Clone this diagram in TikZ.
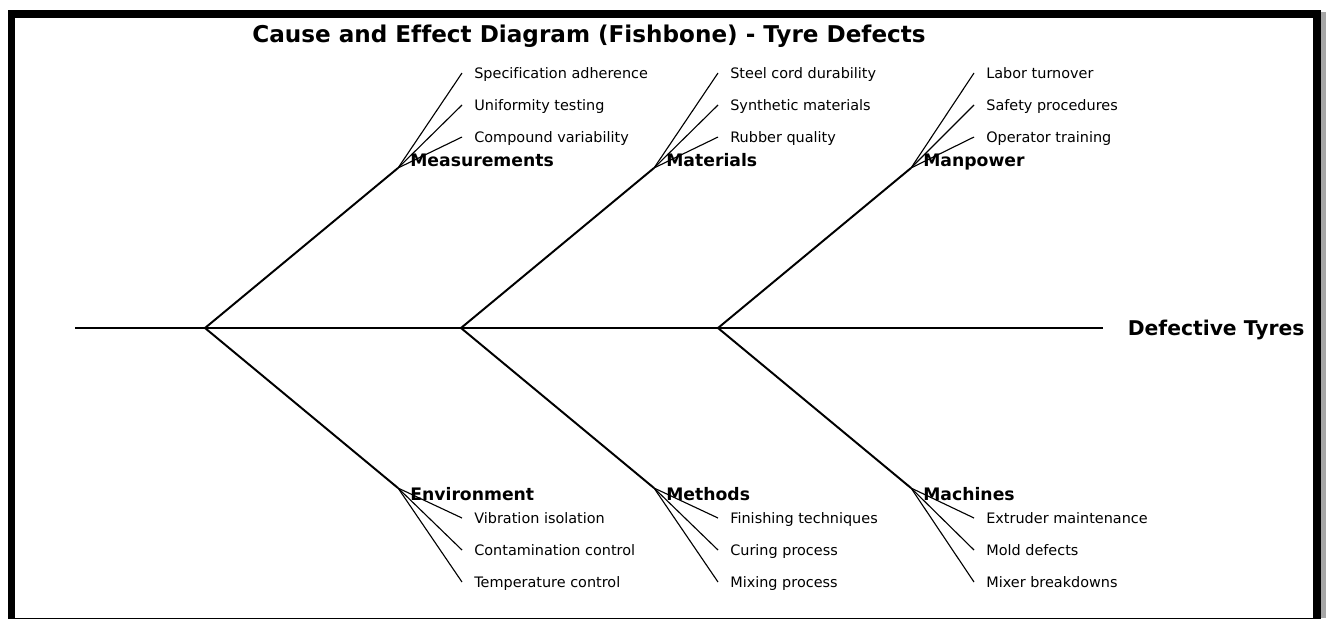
\documentclass[tikz,border=0pt]{standalone}
\usepackage{fontspec}
\setmainfont[Ligatures={NoCommon}]{DejaVu Sans}
\tikzset{
  spine/.style={line width=2pt},
  bone/.style={line width=1.4pt},
  twig/.style={line width=0.8pt},
  catlabel/.style={anchor=west, inner xsep=8.6pt, inner ysep=0pt, text height=0.73em, text depth=0pt, font=\fontsize{12.3}{14}\selectfont\bfseries},
  sublabel/.style={anchor=west, inner xsep=8.6pt, inner ysep=0pt, text height=0.73em, text depth=0pt, font=\fontsize{10.3}{12}\selectfont},
}
\begin{document}
\begin{tikzpicture}[x=0.714pt,y=-0.714pt]
    \useasboundingbox (0,0) rectangle (1326,618);
    % frame with shadow
    \fill[black!35] (1321,12) rectangle (1326,618);
    \draw[line width=5.6pt] (11.5,14) rectangle (1317,622);

    \def\xa{205};
    \def\xb{461};
    \def\xc{718};
    \def\dx{193};
    \def\yt{168};
    \def\yb{488};

    \node[inner sep=0pt, text height=0.73em, text depth=0pt, font=\fontsize{16.5}{18}\selectfont\bfseries] (title) at (589,37.5) {Cause and Effect Diagram (Fishbone) - Tyre Defects};

    % spine
    \coordinate (tail) at (75,328);
    \coordinate (a) at (\xa,328);
    \coordinate (b) at (\xb,328);
    \coordinate (c) at (\xc,328);
    \node[anchor=west, inner sep=0pt, text height=0.73em, text depth=0pt, font=\fontsize{14.5}{16}\selectfont\bfseries] (effect) at (1103,330) {\hspace{17.5pt}Defective Tyres};
    \draw[spine] (tail) -- (effect.west |- c);

    % upper bones
    \coordinate (meas) at (\xa+\dx,\yt);
    \coordinate (mat) at (\xb+\dx,\yt);
    \coordinate (man) at (\xc+\dx,\yt);
    \draw[bone] (a) -- (meas);
    \draw[bone] (b) -- (mat);
    \draw[bone] (c) -- (man);
    \node[catlabel] at (\xa+\dx,161) {Measurements};
    \node[catlabel] at (\xb+\dx,161) {Materials};
    \node[catlabel] at (\xc+\dx,161) {Manpower};

    % lower bones
    \coordinate (env) at (\xa+\dx,\yb);
    \coordinate (meth) at (\xb+\dx,\yb);
    \coordinate (mach) at (\xc+\dx,\yb);
    \draw[bone] (a) -- (env);
    \draw[bone] (b) -- (meth);
    \draw[bone] (c) -- (mach);
    \node[catlabel] at (\xa+\dx,495) {Environment};
    \node[catlabel] at (\xb+\dx,495) {Methods};
    \node[catlabel] at (\xc+\dx,495) {Machines};

    % sub causes, upper
    \node[sublabel] (meas1) at (462,73) {Specification adherence};
    \node[sublabel] (meas2) at (462,105) {Uniformity testing};
    \node[sublabel] (meas3) at (462,137) {Compound variability};
    \node[sublabel] (mat1) at (718,73) {Steel cord durability};
    \node[sublabel] (mat2) at (718,105) {Synthetic materials};
    \node[sublabel] (mat3) at (718,137) {Rubber quality};
    \node[sublabel] (man1) at (974,73) {Labor turnover};
    \node[sublabel] (man2) at (974,105) {Safety procedures};
    \node[sublabel] (man3) at (974,137) {Operator training};
    \draw[twig] (meas) -- (meas1.west);
    \draw[twig] (meas) -- (meas2.west);
    \draw[twig] (meas) -- (meas3.west);
    \draw[twig] (mat) -- (mat1.west);
    \draw[twig] (mat) -- (mat2.west);
    \draw[twig] (mat) -- (mat3.west);
    \draw[twig] (man) -- (man1.west);
    \draw[twig] (man) -- (man2.west);
    \draw[twig] (man) -- (man3.west);

    % sub causes, lower
    \node[sublabel] (env1) at (462,518) {Vibration isolation};
    \node[sublabel] (env2) at (462,550) {Contamination control};
    \node[sublabel] (env3) at (462,582) {Temperature control};
    \node[sublabel] (meth1) at (718,518) {Finishing techniques};
    \node[sublabel] (meth2) at (718,550) {Curing process};
    \node[sublabel] (meth3) at (718,582) {Mixing process};
    \node[sublabel] (mach1) at (974,518) {Extruder maintenance};
    \node[sublabel] (mach2) at (974,550) {Mold defects};
    \node[sublabel] (mach3) at (974,582) {Mixer breakdowns};
    \draw[twig] (env) -- (env1.west);
    \draw[twig] (env) -- (env2.west);
    \draw[twig] (env) -- (env3.west);
    \draw[twig] (meth) -- (meth1.west);
    \draw[twig] (meth) -- (meth2.west);
    \draw[twig] (meth) -- (meth3.west);
    \draw[twig] (mach) -- (mach1.west);
    \draw[twig] (mach) -- (mach2.west);
    \draw[twig] (mach) -- (mach3.west);
\end{tikzpicture}
\end{document}
